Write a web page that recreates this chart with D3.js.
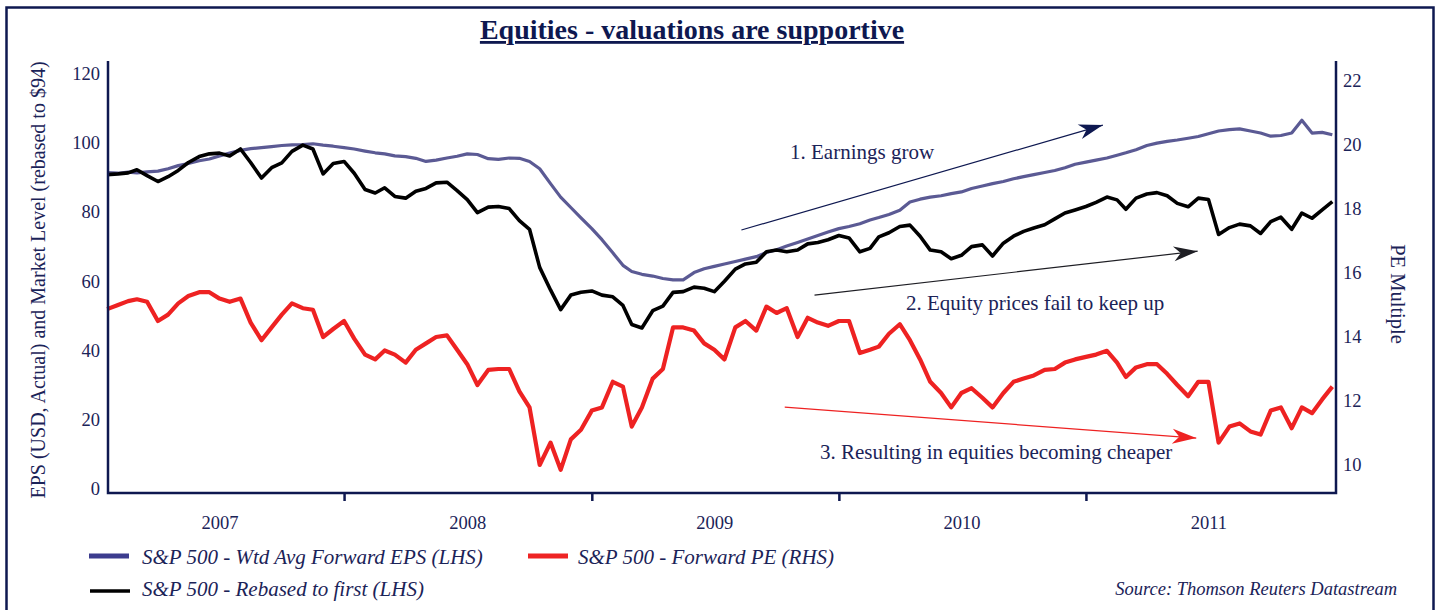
<!DOCTYPE html>
<html>
<head>
<meta charset="utf-8">
<title>Equities - valuations are supportive</title>
<script src="https://d3js.org/d3.v7.min.js"></script>
<style>
  body { margin: 0; background: #fff; }
  svg { display: block; font-family: "Liberation Serif", "Times New Roman", serif; }
</style>
</head>
<body>
<svg width="1440" height="610"></svg>
<script>
const dates = [
  "2007-01-16","2007-02-01","2007-02-16","2007-03-01","2007-03-16","2007-04-01","2007-04-16","2007-05-01","2007-05-16","2007-06-01","2007-06-16","2007-07-01",
  "2007-07-16","2007-08-01","2007-08-16","2007-09-01","2007-09-16","2007-10-01","2007-10-16","2007-11-01","2007-11-16","2007-12-01","2007-12-16",
  "2008-01-01","2008-01-16","2008-02-01","2008-02-16","2008-03-01","2008-03-16","2008-04-01","2008-04-16","2008-05-01","2008-05-16","2008-06-01","2008-06-16",
  "2008-07-01","2008-07-16","2008-08-01","2008-08-16","2008-09-01","2008-09-16","2008-10-01","2008-10-16","2008-11-01","2008-11-16","2008-12-01","2008-12-16",
  "2009-01-01","2009-01-16","2009-02-01","2009-02-16","2009-03-01","2009-03-16","2009-04-01","2009-04-16","2009-05-01","2009-05-16","2009-06-01","2009-06-16",
  "2009-07-01","2009-07-16","2009-08-01","2009-08-16","2009-09-01","2009-09-16","2009-10-01","2009-10-16","2009-11-01","2009-11-16","2009-12-01","2009-12-16",
  "2010-01-01","2010-01-16","2010-02-01","2010-02-16","2010-03-01","2010-03-16","2010-04-01","2010-04-16","2010-05-01","2010-05-16","2010-06-01","2010-06-16",
  "2010-07-01","2010-07-16","2010-08-01","2010-08-16","2010-09-01","2010-09-16","2010-10-01","2010-10-16","2010-11-01","2010-11-16","2010-12-01","2010-12-16",
  "2011-01-01","2011-01-16","2011-02-01","2011-02-16","2011-03-01","2011-03-16","2011-04-01","2011-04-16","2011-05-01","2011-05-16","2011-06-01","2011-06-16",
  "2011-07-01","2011-07-16","2011-08-01","2011-08-16","2011-09-01","2011-09-16","2011-10-01","2011-10-16","2011-11-01","2011-11-16","2011-12-01","2011-12-16",
  "2011-12-31"
];

// S&P 500 - Wtd Avg Forward EPS (LHS)
const epsForward = [
  91.4, 91.2, 91.5, 91.3, 91.6, 91.8, 92.5, 93.4, 94.0, 94.8, 95.3, 96.2, 97.0, 97.8, 98.3, 98.6, 98.9, 99.2, 99.4, 99.5, 99.7, 99.3, 99.0,
  98.6, 98.2, 97.6, 97.1, 96.8, 96.2, 96.0, 95.5, 94.6, 95.0, 95.6, 96.1, 96.8, 96.6, 95.4, 95.2, 95.6, 95.5, 94.6, 92.5, 88.2, 84.3, 81.3, 78.3,
  75.2, 72.0, 68.2, 64.6, 62.8, 62.0, 61.5, 60.8, 60.4, 60.4, 62.5, 63.6, 64.3, 65.0, 65.7, 66.4, 67.1, 68.3, 69.1, 70.2, 71.2, 72.2, 73.2, 74.2,
  75.2, 75.8, 76.6, 77.7, 78.4, 79.3, 80.5, 82.9, 83.7, 84.3, 84.7, 85.3, 85.8, 86.8, 87.5, 88.2, 88.8, 89.6, 90.2, 90.8, 91.4, 92.0, 92.8, 93.8,
  94.4, 95.0, 95.6, 96.4, 97.1, 98.0, 99.2, 99.9, 100.4, 100.8, 101.3, 101.8, 102.6, 103.4, 103.8, 104.0, 103.4, 102.8, 101.9, 102.1, 102.8, 106.5, 102.8, 103.0,
  102.3
];

// S&P 500 - Rebased to first (LHS)
const spxRebased = [
  90.8, 91.0, 91.3, 92.2, 90.5, 88.8, 90.2, 92.0, 94.3, 96.0, 96.8, 97.0, 96.2, 98.2, 94.3, 89.8, 92.8, 94.2, 97.5, 99.3, 98.2, 91.0, 94.0,
  94.6, 91.2, 86.5, 85.5, 87.0, 84.5, 84.0, 86.0, 86.8, 88.4, 88.6, 86.2, 83.6, 79.8, 81.4, 81.6, 81.0, 77.5, 75.0, 64.0, 57.5, 51.8, 56.0, 56.8,
  57.2, 56.0, 55.5, 53.0, 47.5, 46.5, 51.5, 52.8, 56.8, 57.0, 58.3, 58.0, 57.0, 60.0, 63.5, 65.0, 65.5, 68.5, 69.0, 68.5, 69.0, 70.8, 71.2, 72.0,
  73.2, 72.5, 68.5, 69.5, 72.8, 74.0, 75.8, 76.2, 73.0, 69.0, 68.5, 66.5, 67.5, 70.0, 70.5, 67.3, 71.0, 73.0, 74.4, 75.4, 76.3, 78.0, 79.7, 80.6,
  81.6, 82.8, 84.3, 83.5, 80.8, 84.0, 85.2, 85.6, 84.7, 82.5, 81.5, 84.0, 83.6, 73.5, 75.5, 76.5, 76.0, 73.8, 77.2, 78.5, 75.0, 79.7, 78.2, 80.6,
  83.0
];

// S&P 500 - Forward PE (RHS)
const forwardPE = [
  14.87, 15.0, 15.12, 15.18, 15.1, 14.5, 14.7, 15.05, 15.28, 15.4, 15.4, 15.2, 15.1, 15.2, 14.45, 13.9, 14.3, 14.7, 15.05, 14.9, 14.85, 14.0, 14.25,
  14.5, 13.95, 13.45, 13.3, 13.58, 13.45, 13.2, 13.6, 13.8, 14.0, 14.05, 13.6, 13.15, 12.5, 12.97, 13.0, 13.0, 12.3, 11.8, 10.0, 10.7, 9.85, 10.8, 11.1,
  11.7, 11.8, 12.6, 12.45, 11.2, 11.8, 12.7, 13.0, 14.3, 14.3, 14.2, 13.8, 13.6, 13.3, 14.3, 14.5, 14.2, 14.95, 14.75, 14.9, 14.0, 14.6, 14.45, 14.35,
  14.5, 14.5, 13.5, 13.6, 13.7, 14.1, 14.4, 13.9, 13.3, 12.6, 12.25, 11.8, 12.25, 12.4, 12.1, 11.8, 12.25, 12.6, 12.7, 12.8, 12.97, 13.0, 13.2, 13.3,
  13.38, 13.45, 13.57, 13.2, 12.75, 13.05, 13.15, 13.15, 12.85, 12.5, 12.15, 12.6, 12.6, 10.7, 11.2, 11.3, 11.05, 10.95, 11.7, 11.8, 11.15, 11.8, 11.62, 12.05,
  12.45
];

const leftTicks = [0, 20, 40, 60, 80, 100, 120];
const rightTicks = [10, 12, 14, 16, 18, 20, 22];
const years = ["2007", "2008", "2009", "2010", "2011"];

const legendItems = [
  { label: "S&P 500 - Wtd Avg Forward EPS (LHS)", color: "#3c3c8e" },
  { label: "S&P 500 - Forward PE (RHS)", color: "#ee2424" },
  { label: "S&P 500 - Rebased to first (LHS)", color: "#000000" }
];

const navy = "#0e1850";
const textCol = "#1b2358";
const plot = { left: 108, right: 1336, top: 61, bottom: 493 };

const parse = d3.timeParse("%Y-%m-%d");
const rows = dates.map((d, i) => ({
  date: parse(d), eps: epsForward[i], spx: spxRebased[i], pe: forwardPE[i]
}));

const svg = d3.select("svg");

const x = d3.scaleTime()
  .domain([new Date(2007, 0, 1), new Date(2012, 0, 1)])
  .range([97, 1333]);
const yL = d3.scaleLinear().domain([0, 120]).range([489, 73.5]);
const yR = d3.scaleLinear().domain([10, 22]).range([465, 81]);

// outer frame
svg.append("rect")
  .attr("x", 6.5).attr("y", 7.5)
  .attr("width", 1427).attr("height", 640)
  .attr("fill", "none").attr("stroke", navy).attr("stroke-width", 2.5);

// title
svg.append("text")
  .attr("x", 692).attr("y", 39)
  .attr("text-anchor", "middle")
  .attr("fill", navy)
  .style("font-size", "28px").style("font-weight", "bold")
  .style("text-decoration", "underline")
  .text("Equities - valuations are supportive");

// series
const lineEps = d3.line().x(d => x(d.date)).y(d => yL(d.eps));
const lineSpx = d3.line().x(d => x(d.date)).y(d => yL(d.spx));
const linePe = d3.line().x(d => x(d.date)).y(d => yR(d.pe));

svg.append("path").datum(rows)
  .attr("d", lineEps).attr("fill", "none")
  .attr("stroke", "#5b5a94").attr("stroke-width", 3.2).attr("stroke-linejoin", "round");
svg.append("path").datum(rows)
  .attr("d", lineSpx).attr("fill", "none")
  .attr("stroke", "#000").attr("stroke-width", 3.6).attr("stroke-linejoin", "round");
svg.append("path").datum(rows)
  .attr("d", linePe).attr("fill", "none")
  .attr("stroke", "#ee2222").attr("stroke-width", 4.2).attr("stroke-linejoin", "round");

// axes
const styleAxis = (g, size) => {
  g.select(".domain").remove();
  g.selectAll("text")
    .attr("fill", textCol)
    .style("font-family", "'Liberation Serif', serif")
    .style("font-size", size);
};

const gl = svg.append("g")
  .attr("transform", `translate(${plot.left},0)`)
  .call(d3.axisLeft(yL).tickValues(leftTicks).tickSize(0).tickPadding(8));
styleAxis(gl, "18.5px");

const gr = svg.append("g")
  .attr("transform", `translate(${plot.right},0)`)
  .call(d3.axisRight(yR).tickValues(rightTicks).tickSize(0).tickPadding(7));
styleAxis(gr, "18.5px");

const gt = svg.append("g")
  .attr("transform", `translate(0,${plot.bottom})`)
  .call(d3.axisBottom(x)
    .tickValues(years.slice(1).map(y => new Date(+y, 0, 1)))
    .tickSize(8).tickFormat(""));
gt.select(".domain").remove();
gt.selectAll("line").attr("stroke", navy).attr("stroke-width", 2.5);

const gy = svg.append("g")
  .attr("transform", `translate(0,${plot.bottom})`)
  .call(d3.axisBottom(x)
    .tickValues(years.map(y => new Date(+y, 6, 1)))
    .tickSize(0).tickFormat(d3.timeFormat("%Y")));
styleAxis(gy, "18.5px");
gy.selectAll("text").attr("y", 36).attr("dy", 0);

// plot frame (left, bottom, right)
svg.append("path")
  .attr("d", `M${plot.left},${plot.top}V${plot.bottom}H${plot.right}V${plot.top}`)
  .attr("fill", "none").attr("stroke", navy).attr("stroke-width", 2.5);

// axis titles
svg.append("text")
  .attr("transform", "translate(45,280) rotate(-90)")
  .attr("text-anchor", "middle").attr("fill", textCol)
  .style("font-size", "20px")
  .text("EPS (USD, Actual) and Market Level (rebased to $94)");
svg.append("text")
  .attr("transform", "translate(1391,294) rotate(90)")
  .attr("text-anchor", "middle").attr("fill", textCol)
  .style("font-size", "20.5px")
  .text("PE Multiple");

// annotation arrows
const defs = svg.append("defs");
const arrowCols = { a1: navy, a2: "#1e1e24", a3: "#ee2222" };
Object.entries(arrowCols).forEach(([id, c]) => {
  defs.append("marker").attr("id", id)
    .attr("viewBox", "-25 -8 26 16").attr("markerUnits", "userSpaceOnUse")
    .attr("markerWidth", 26).attr("markerHeight", 16)
    .attr("refX", 0).attr("refY", 0).attr("orient", "auto")
    .append("path").attr("d", "M0,0L-24,-7.5L-17,0L-24,7.5Z").attr("fill", c);
});

const notes = [
  { id: "a1", y: yL, from: ["2009-08-10", 74.8], to: ["2011-01-26", 105.1],
    text: "1. Earnings grow", tx: 790, ty: 159 },
  { id: "a2", y: yL, from: ["2009-11-26", 56.0], to: ["2011-06-15", 68.7],
    text: "2. Equity prices fail to keep up", tx: 906, ty: 310 },
  { id: "a3", y: yR, from: ["2009-10-13", 11.81], to: ["2011-06-13", 10.84],
    text: "3. Resulting in equities becoming cheaper", tx: 820, ty: 459 }
];
notes.forEach(n => {
  svg.append("line")
    .attr("x1", x(parse(n.from[0]))).attr("y1", n.y(n.from[1]))
    .attr("x2", x(parse(n.to[0]))).attr("y2", n.y(n.to[1]))
    .attr("stroke", arrowCols[n.id]).attr("stroke-width", 1.2)
    .attr("marker-end", `url(#${n.id})`);
  svg.append("text").attr("x", n.tx).attr("y", n.ty)
    .attr("fill", textCol).style("font-size", "21px").text(n.text);
});

// legend
const legPos = [[89, 556, 142, 564], [528, 556, 578, 564], [90, 591, 142, 596]];
legendItems.forEach((d, i) => {
  const p = legPos[i];
  svg.append("line")
    .attr("x1", p[0]).attr("x2", p[0] + 40).attr("y1", p[1]).attr("y2", p[1])
    .attr("stroke", d.color).attr("stroke-width", i === 2 ? 3.5 : 5);
  svg.append("text").attr("x", p[2]).attr("y", p[3])
    .attr("fill", textCol).style("font-size", "21px").style("font-style", "italic")
    .text(d.label);
});

svg.append("text")
  .attr("x", 1397).attr("y", 595).attr("text-anchor", "end")
  .attr("fill", textCol).style("font-size", "18.5px").style("font-style", "italic")
  .text("Source: Thomson Reuters Datastream");
</script>
</body>
</html>
